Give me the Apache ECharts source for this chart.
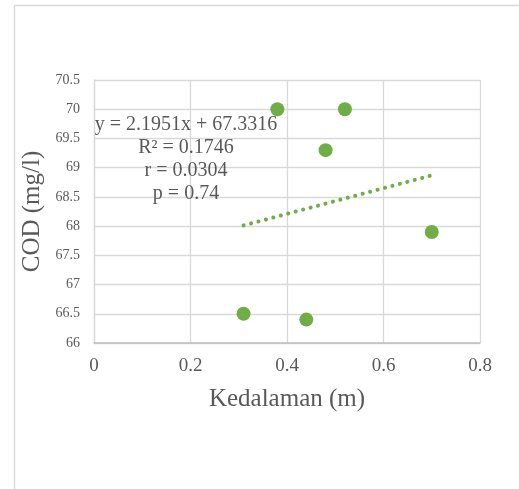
<!DOCTYPE html>
<html>
<head>
<meta charset="utf-8">
<script src="https://cdn.jsdelivr.net/npm/echarts@6/dist/echarts.min.js"></script>
<style>
  html, body { margin: 0; padding: 0; background: #ffffff; }
  #chart { width: 519px; height: 489px; }
</style>
</head>
<body>
<div id="chart"></div>
<script>
// Depth (m) against COD (mg/l) measurements
const depth = [0.38, 0.52, 0.48, 0.70, 0.31, 0.44];
const cod = [70.0, 70.0, 69.3, 67.9, 66.5, 66.4];

// Linear trend stated in the annotation
const trendSlope = 2.1951;
const trendIntercept = 67.3316;
const statLines = ['y = 2.1951x + 67.3316', 'R² = 0.1746', 'r = 0.0304', 'p = 0.74'];

const xTicks = { min: 0, max: 0.8, step: 0.2 };
const yTicks = { min: 66, max: 70.5, step: 0.5 };

const textColor = '#595959';
const serif = '"Liberation Serif", "Times New Roman", serif';
const green = '#70AD47';

const points = depth.map((d, i) => [d, cod[i]]);
const xLo = Math.min(...depth), xHi = Math.max(...depth);
const trend = [
  [xLo, trendSlope * xLo + trendIntercept],
  [xHi, trendSlope * xHi + trendIntercept]
];

const chart = echarts.init(document.getElementById('chart'), null, { renderer: 'canvas' });
chart.setOption({
  backgroundColor: '#ffffff',
  animation: false,
  grid: { left: 94, top: 80, right: 39, bottom: 146, containLabel: false },
  xAxis: {
    type: 'value',
    min: xTicks.min, max: xTicks.max, interval: xTicks.step,
    name: 'Kedalaman (m)',
    nameLocation: 'middle',
    nameGap: 44,
    nameTextStyle: { fontFamily: serif, fontSize: 25, color: textColor },
    axisLine: { show: true, lineStyle: { color: '#bfbfbf', width: 1.5 } },
    axisTick: { show: false },
    axisLabel: { fontFamily: serif, fontSize: 19, color: textColor, margin: 14 },
    splitLine: { show: true, lineStyle: { color: '#d9d9d9', width: 1.3 } }
  },
  yAxis: {
    type: 'value',
    min: yTicks.min, max: yTicks.max, interval: yTicks.step,
    name: 'COD (mg/l)',
    nameLocation: 'middle',
    nameGap: 48,
    nameTextStyle: { fontFamily: serif, fontSize: 25, color: textColor },
    axisLine: { show: true, lineStyle: { color: '#d9d9d9', width: 1.3 } },
    axisTick: { show: false },
    axisLabel: { fontFamily: serif, fontSize: 14, color: textColor, margin: 14 },
    splitLine: { show: true, lineStyle: { color: '#d9d9d9', width: 1.3 } }
  },
  graphic: [
    {
      type: 'rect',
      left: 12, top: 3,
      shape: { width: 530, height: 520 },
      style: { fill: 'none', stroke: '#d9d9d9', lineWidth: 1.5 },
      silent: true, z: -1
    },
    {
      type: 'text',
      x: 186, y: 113.5,
      style: {
        text: statLines.join('\n'),
        fontFamily: serif,
        fontSize: 20,
        lineHeight: 23,
        fill: textColor,
        textAlign: 'center',
        textVerticalAlign: 'top'
      },
      z: 10
    }
  ],
  series: [
    {
      type: 'line',
      data: trend,
      showSymbol: false,
      symbol: 'none',
      lineStyle: { color: green, width: 4, type: [0.1, 7.6], cap: 'round', opacity: 1 },
      z: 2
    },
    {
      type: 'scatter',
      data: points,
      symbol: 'circle',
      symbolSize: 14,
      itemStyle: { color: green, opacity: 1 },
      z: 3
    }
  ]
});
</script>
</body>
</html>
